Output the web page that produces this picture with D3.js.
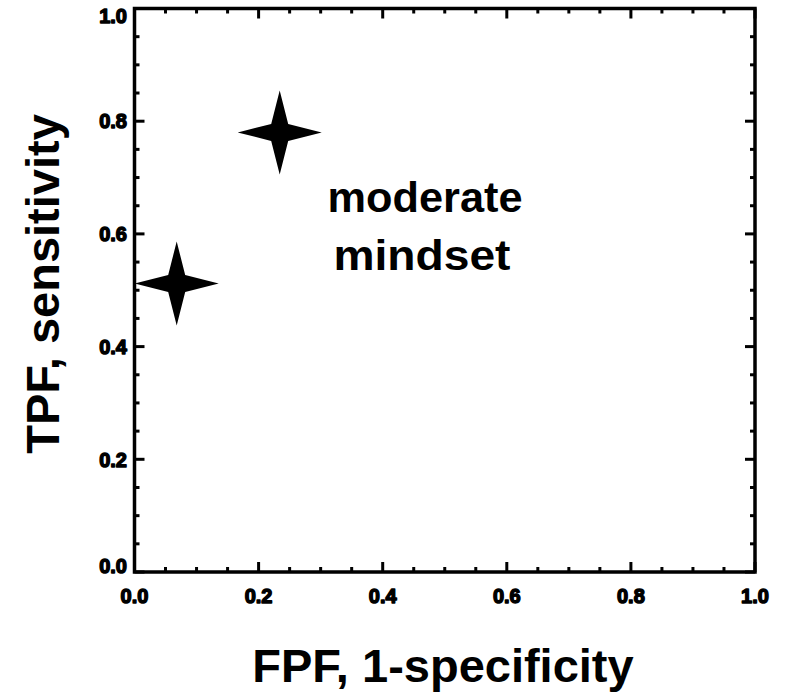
<!DOCTYPE html>
<html>
<head>
<meta charset="utf-8">
<script src="https://cdn.jsdelivr.net/npm/d3@7"></script>
<style>
  html, body { margin: 0; padding: 0; background: #fff; }
  svg { display: block; }
  text { font-family: "Liberation Sans", Arial, Helvetica, sans-serif; font-weight: bold; fill: #000; }
</style>
</head>
<body>
<svg id="chart" width="790" height="695"></svg>
<script>
// Operating points (FPF, TPF) of the readers
const fpf = [0.068, 0.234];
const tpf = [0.512, 0.780];

const majorTicks = [0.0, 0.2, 0.4, 0.6, 0.8, 1.0];
const tickLabels = ["0.0", "0.2", "0.4", "0.6", "0.8", "1.0"];
const minorTicks = d3.range(0, 21).map(i => i / 20).filter(v => Math.round(v * 20) % 4 !== 0);

const xTitle = "FPF, 1-specificity";
const yTitle = "TPF, sensitivity";
const annotation = ["moderate", "mindset"];

const svg = d3.select("#chart");
const plotLeft = 134.5, plotRight = 755, plotTop = 8.5, plotBottom = 572;

const x = d3.scaleLinear().domain([0, 1]).range([plotLeft, plotRight]);
const y = d3.scaleLinear().domain([0, 1]).range([plotBottom, plotTop]);

const axStroke = 3;

// Ticks on all four sides, pointing inward
function ticks(axis, values, len) {
  const g = svg.append("g").attr("stroke", "#000").attr("stroke-width", axStroke);
  values.forEach(v => {
    if (axis === "x") {
      g.append("line").attr("x1", x(v)).attr("x2", x(v)).attr("y1", plotBottom).attr("y2", plotBottom - len);
      g.append("line").attr("x1", x(v)).attr("x2", x(v)).attr("y1", plotTop).attr("y2", plotTop + len);
    } else {
      g.append("line").attr("y1", y(v)).attr("y2", y(v)).attr("x1", plotLeft).attr("x2", plotLeft + len);
      g.append("line").attr("y1", y(v)).attr("y2", y(v)).attr("x1", plotRight).attr("x2", plotRight - len);
    }
  });
}
ticks("x", majorTicks, 10);
ticks("x", minorTicks, 5);
ticks("y", majorTicks, 10);
ticks("y", minorTicks, 5);

// Frame
svg.append("rect")
  .attr("x", plotLeft).attr("y", plotTop)
  .attr("width", plotRight - plotLeft).attr("height", plotBottom - plotTop)
  .attr("fill", "none").attr("stroke", "#000").attr("stroke-width", 3.5);

// Tick labels (heavy face)
const lblStyle = sel => sel.attr("font-size", 20).attr("stroke", "#000").attr("stroke-width", 1.4)
  .attr("stroke-linejoin", "round");
svg.append("g").selectAll("text").data(majorTicks).join("text")
  .attr("x", d => x(d)).attr("y", 603)
  .attr("text-anchor", "middle")
  .text((d, i) => tickLabels[i])
  .call(lblStyle);
// The end labels are kept inside the frame's vertical extent
svg.append("g").selectAll("text").data(majorTicks).join("text")
  .attr("x", 127).attr("y", d => y(d))
  .attr("dy", d => d === 1 ? "0.72em" : d === 0 ? "0.05em" : "0.36em")
  .attr("text-anchor", "end")
  .text((d, i) => tickLabels[i])
  .call(lblStyle);

// Axis titles
svg.append("text")
  .attr("x", 443).attr("y", 682)
  .attr("text-anchor", "middle")
  .attr("font-size", 47)
  .text(xTitle);
svg.append("text")
  .attr("transform", "translate(59,284) rotate(-90)")
  .attr("text-anchor", "middle")
  .attr("font-size", 47)
  .text(yTitle);

// Annotation
svg.append("text").attr("x", 425).attr("y", 212).attr("text-anchor", "middle")
  .attr("font-size", 42).attr("textLength", 195).attr("lengthAdjust", "spacingAndGlyphs")
  .text(annotation[0]);
svg.append("text").attr("x", 422).attr("y", 270).attr("text-anchor", "middle")
  .attr("font-size", 42).attr("textLength", 177).attr("lengthAdjust", "spacingAndGlyphs")
  .text(annotation[1]);

// Four-pointed star markers
const R = 42, r = 8.5;
function starPath() {
  const p = d3.path();
  const pts = [];
  for (let k = 0; k < 8; k++) {
    const a = -Math.PI / 2 + k * Math.PI / 4;
    const rad = k % 2 === 0 ? R : r * Math.SQRT2;
    pts.push([rad * Math.cos(a), rad * Math.sin(a)]);
  }
  p.moveTo(pts[0][0], pts[0][1]);
  pts.slice(1).forEach(q => p.lineTo(q[0], q[1]));
  p.closePath();
  return p.toString();
}
svg.append("g").selectAll("path").data(fpf.map((v, i) => [v, tpf[i]])).join("path")
  .attr("transform", d => `translate(${x(d[0])},${y(d[1])})`)
  .attr("d", starPath())
  .attr("fill", "#000");
</script>
</body>
</html>
